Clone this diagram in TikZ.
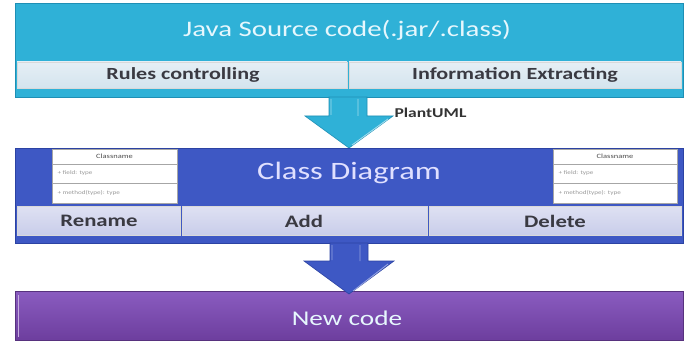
\documentclass[tikz,border=0pt]{standalone}
\usepackage{fontspec}
\setmainfont[FakeStretch=1.3]{Carlito}
\definecolor{srcblue}{HTML}{2FB1D7}
\definecolor{srcedge}{HTML}{1E8FB5}
\definecolor{srccell}{HTML}{D4E4EE}
\definecolor{cdblue}{HTML}{3E58C4}
\definecolor{cdedge}{HTML}{2C43A3}
\definecolor{cdcell}{HTML}{C9CDEA}
\definecolor{ncpurpA}{HTML}{8A5CC0}
\definecolor{ncpurpB}{HTML}{6D3E9E}
\definecolor{celltext}{HTML}{3A3A42}
\tikzset{
  band/.style={draw=#1, line width=0.8pt},
  cell/.style={draw=white!70!gray, line width=0.7pt, top color=white!40!#1, bottom color=#1},
  celllabel/.style={font=\fontsize{17}{19}\selectfont\bfseries, text=celltext},
  bandlabel/.style={font=\fontsize{21}{24}\selectfont, text=white!90!cyan},
  umlbox/.style={draw=gray!70, fill=white, line width=0.5pt},
  umltext/.style={font=\fontsize{5.5}{6}\selectfont, text=gray!80},
  bigarrow/.style={line width=0.6pt},
}
\begin{document}
\begin{tikzpicture}[x=1pt,y=-1pt]
\useasboundingbox[fill=white] (0,0) rectangle (691,342);

% ---- Java source block ----
\fill[srcblue, band=srcedge] (15,3) rectangle (683,97);
\node[bandlabel, font=\fontsize{22.2}{25}\selectfont] (src) at (347,30) {Java Source code(.jar/.class)};
\path[cell=srccell] (17,62) rectangle (347,88);
\path[cell=srccell] (349,62) rectangle (681,88);
\node[celllabel] (rules) at (183,75) {Rules controlling};
\node[celllabel] (info) at (515,75) {Information Extracting};

% ---- arrow 1 ----
\coordinate (a1tip) at (349,148);
\fill[srcblue, draw=srcedge, bigarrow]
  (329,97) -- (367,97) -- (367,116) -- (393,116) -- (a1tip) -- (305,116) -- (329,116) -- cycle;
\draw[white!55!srcblue, line width=0.9pt] (331,99) -- (331,115) (358,99) -- (358,116) (388,119) -- (352,145);
\node[anchor=west, font=\fontsize{13.5}{15}\selectfont\bfseries, text=black!80] (puml) at (391,113) {PlantUML};

% ---- Class diagram block ----
\fill[cdblue, band=cdedge] (15,148) rectangle (683,243);
\node[font=\fontsize{25}{28}\selectfont, text=white!88!blue] (cd) at (349,173) {Class Diagram};

% left UML box
\draw[umlbox] (52,149) rectangle (177,203);
\draw[gray!70, line width=0.5pt] (52,164) -- (177,164) (52,183) -- (177,183);
\node[umltext, font=\fontsize{6.5}{7}\selectfont, text=black!70] (lcn) at (114.5,156.5) {Classname};
\node[umltext, anchor=west] (lf) at (54,173.5) {+ field: type};
\node[umltext, anchor=west] (lm) at (54,193) {+ method(type): type};

% right UML box
\draw[umlbox] (553,149) rectangle (677,203);
\draw[gray!70, line width=0.5pt] (553,164) -- (677,164) (553,183) -- (677,183);
\node[umltext, font=\fontsize{6.5}{7}\selectfont, text=black!70] (rcn) at (615,156.5) {Classname};
\node[umltext, anchor=west] (rf) at (555,173.5) {+ field: type};
\node[umltext, anchor=west] (rm) at (555,193) {+ method(type): type};

\path[cell=cdcell] (17,206) rectangle (180,235);
\path[cell=cdcell] (182,206) rectangle (427,235);
\path[cell=cdcell] (429,206) rectangle (681,235);
\node[celllabel, font=\fontsize{17.5}{19}\selectfont\bfseries] (ren) at (99,221) {Rename};
\node[celllabel, font=\fontsize{17.5}{19}\selectfont\bfseries] (add) at (304,221) {Add};
\node[celllabel, font=\fontsize{17.5}{19}\selectfont\bfseries] (del) at (555,221) {Delete};

% ---- New code block ----
\path[top color=ncpurpA, bottom color=ncpurpB, draw=ncpurpB!80!black, line width=0.6pt]
  (15,291) rectangle (683,340);
\draw[white!50!ncpurpA, line width=0.8pt] (18,295) -- (18,337);
\node[bandlabel] (nc) at (347,318) {New code};

% ---- arrow 2 ----
\coordinate (a2tip) at (349,294);
\fill[cdblue, draw=cdedge, bigarrow]
  (330,243) -- (368,243) -- (368,261) -- (394,261) -- (a2tip) -- (304,261) -- (330,261) -- cycle;
\draw[white!45!cdblue, line width=0.9pt] (332,245) -- (332,260) (360,245) -- (360,261) (388,264) -- (353,291);
\end{tikzpicture}
\end{document}
